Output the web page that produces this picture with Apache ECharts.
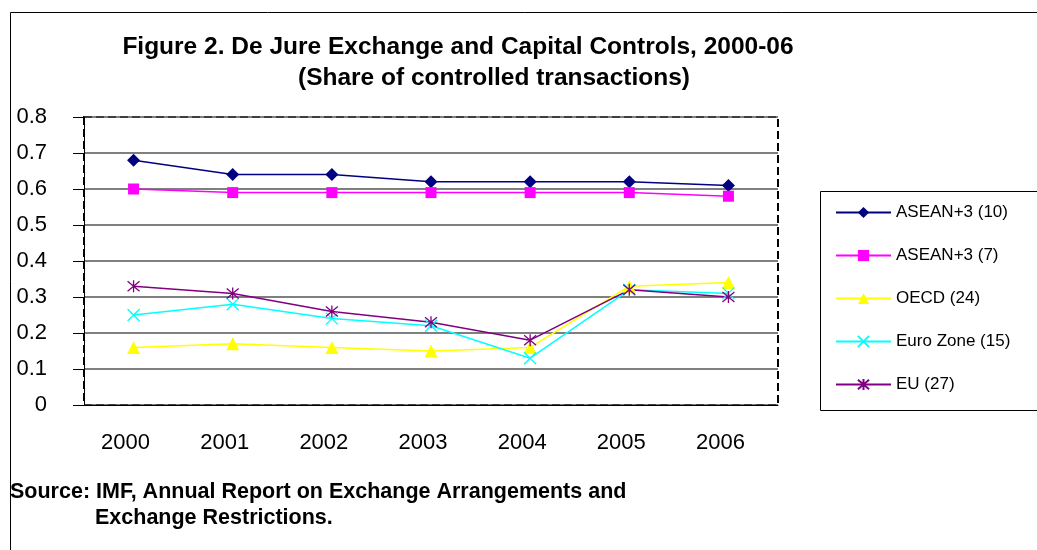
<!DOCTYPE html>
<html>
<head>
<meta charset="utf-8">
<script src="https://cdn.jsdelivr.net/npm/echarts@6/dist/echarts.min.js"></script>
<style>
  html, body { margin: 0; padding: 0; background: #fff; }
  #chart { width: 1037px; height: 550px; }
</style>
</head>
<body>
<div id="chart"></div>
<script>
const years = ['2000', '2001', '2002', '2003', '2004', '2005', '2006']
const asean10 = [0.68, 0.64, 0.64, 0.62, 0.62, 0.62, 0.61]
const asean7 = [0.60, 0.59, 0.59, 0.59, 0.59, 0.59, 0.58]
const oecd = [0.16, 0.17, 0.16, 0.15, 0.16, 0.33, 0.34]
const euroZone = [0.25, 0.28, 0.24, 0.22, 0.13, 0.32, 0.31]
const eu = [0.33, 0.31, 0.26, 0.23, 0.18, 0.32, 0.30]

const font = 'Arial, "Liberation Sans", sans-serif'
const crossPath = 'path://M0,0L10,10M10,0L0,10'
const starPath = 'path://M0,0L10,10M10,0L0,10M5,-1L5,11'

const chart = echarts.init(document.getElementById('chart'))

const mkSeries = (name, data, color, symbol, size, stroke) => ({
  name,
  type: 'line',
  data,
  symbol,
  symbolSize: size,
  showSymbol: true,
  lineStyle: { color, width: 1.5 },
  itemStyle: stroke
    ? { color: 'rgba(0,0,0,0)', borderColor: color, borderWidth: 1.3 }
    : { color, borderWidth: 0 },
  emphasis: { disabled: true },
  animation: false
})

const option = {
  backgroundColor: '#fff',
  animation: false,
  grid: {
    left: 84, right: 259, top: 117, bottom: 145,
    show: true,
    borderColor: '#000',
    borderWidth: 2,
    borderType: [8, 4]
  },
  legend: {
    orient: 'vertical',
    left: 830,
    top: 199,
    itemWidth: 55,
    itemHeight: 14,
    itemGap: 26,
    textStyle: { fontFamily: font, fontSize: 17, color: '#000' },
    data: ['ASEAN+3 (10)', 'ASEAN+3 (7)', 'OECD (24)', 'Euro Zone (15)', 'EU (27)']
  },
  xAxis: {
    type: 'category',
    data: years,
    boundaryGap: true,
    axisLine: { lineStyle: { color: '#000', width: 1 } },
    axisTick: { length: 8, lineStyle: { color: '#000' } },
    axisLabel: {
      fontFamily: font, fontSize: 22, color: '#000', margin: 27,
      padding: [0, 16, 0, 0]
    },
    splitLine: { show: false }
  },
  yAxis: {
    type: 'value',
    min: 0,
    max: 0.8,
    interval: 0.1,
    axisLine: { show: true, lineStyle: { color: '#000', width: 1 } },
    axisTick: { show: true, length: 11, lineStyle: { color: '#000' } },
    axisLabel: {
      fontFamily: font, fontSize: 22, color: '#000', margin: 37,
      formatter: v => (v === 0 ? '0' : v.toFixed(1))
    },
    splitLine: { lineStyle: { color: '#555', width: 1.5 } }
  },
  graphic: [
    {
      type: 'rect', left: 8, top: 10, silent: true, z: -1,
      shape: { width: 1100, height: 600 },
      style: { fill: 'none', stroke: '#000', lineWidth: 1 }
    },
    {
      type: 'rect', left: 818, top: 189, silent: true,
      shape: { width: 240, height: 219 },
      style: { fill: 'none', stroke: '#000', lineWidth: 1 }
    },
    {
      type: 'text', x: 458, y: 47, silent: true,
      style: {
        text: 'Figure 2. De Jure Exchange and Capital Controls, 2000-06',
        font: 'bold 24.5px ' + font, fill: '#000', align: 'center', verticalAlign: 'middle'
      }
    },
    {
      type: 'text', x: 494, y: 78, silent: true,
      style: {
        text: '(Share of controlled transactions)',
        font: 'bold 24.5px ' + font, fill: '#000', align: 'center', verticalAlign: 'middle'
      }
    },
    {
      type: 'text', x: 10, y: 492, silent: true,
      style: {
        text: 'Source: IMF, Annual Report on Exchange Arrangements and',
        font: 'bold 21.5px ' + font, fill: '#000', verticalAlign: 'middle'
      }
    },
    {
      type: 'text', x: 95, y: 518, silent: true,
      style: {
        text: 'Exchange Restrictions.',
        font: 'bold 21.5px ' + font, fill: '#000', verticalAlign: 'middle'
      }
    }
  ],
  series: [
    mkSeries('ASEAN+3 (10)', asean10, '#000080', 'diamond', 13, false),
    mkSeries('ASEAN+3 (7)', asean7, '#ff00ff', 'rect', 11, false),
    mkSeries('OECD (24)', oecd, '#ffff00', 'triangle', 13, false),
    mkSeries('Euro Zone (15)', euroZone, '#00ffff', crossPath, 12, true),
    mkSeries('EU (27)', eu, '#800080', starPath, 12, true)
  ]
}

chart.setOption(option)
</script>
</body>
</html>
